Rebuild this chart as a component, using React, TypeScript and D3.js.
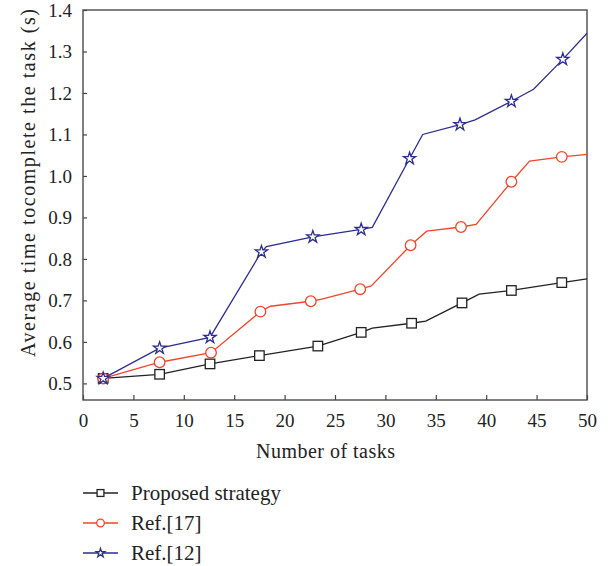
import React, { useEffect, useRef } from 'react';
import * as d3 from 'd3';

// values
const proposedX = [2, 7.6, 12.6, 17.5, 23.3, 27.6, 28.7, 32.6, 34.0, 37.6, 39.3, 42.5, 47.5, 50];
const proposedY = [0.512, 0.522, 0.547, 0.567, 0.59, 0.623, 0.633, 0.645, 0.65, 0.694, 0.715, 0.724, 0.743, 0.752];
const proposedMarks = [0, 1, 2, 3, 4, 5, 7, 9, 11, 12];

const ref17X = [2, 7.6, 12.7, 17.6, 18.6, 22.6, 23.7, 27.5, 28.6, 32.5, 34.1, 37.5, 39.0, 42.5, 44.3, 47.5, 50];
const ref17Y = [0.512, 0.551, 0.574, 0.673, 0.686, 0.698, 0.703, 0.727, 0.735, 0.833, 0.867, 0.877, 0.883, 0.986, 1.036, 1.046, 1.052];
const ref17Marks = [0, 1, 2, 3, 5, 7, 9, 11, 13, 15];

const ref12X = [2, 7.6, 12.6, 17.7, 18.2, 22.8, 27.6, 28.7, 32.4, 33.7, 37.4, 38.9, 42.5, 44.7, 47.6, 50];
const ref12Y = [0.512, 0.585, 0.611, 0.817, 0.83, 0.853, 0.871, 0.876, 1.042, 1.1, 1.124, 1.135, 1.18, 1.209, 1.281, 1.344];
const ref12Marks = [0, 1, 2, 3, 5, 6, 8, 10, 12, 14];

const xTicks = [0, 5, 10, 15, 20, 25, 30, 35, 40, 45, 50];
const yTicks = [0.5, 0.6, 0.7, 0.8, 0.9, 1.0, 1.1, 1.2, 1.3, 1.4];

const seriesNames = ['Proposed strategy', 'Ref.[17]', 'Ref.[12]'];

const FONT = '"Liberation Serif", "DejaVu Serif", serif';

const App = () => {
  const svgRef = useRef<SVGSVGElement>(null);

  useEffect(() => {
    const root = d3.select(svgRef.current);
    root.selectAll('*').remove();

    const left = 83, right = 587, top = 10, bottom = 400;

    const x = d3.scaleLinear().domain([0, 50]).range([left, right]);
    const y = d3.scaleLinear().domain([0.46, 1.4]).range([bottom, top]);

    const series = [
      { name: seriesNames[0], xs: proposedX, ys: proposedY, marks: proposedMarks, color: '#222222', shape: 'square' },
      { name: seriesNames[1], xs: ref17X, ys: ref17Y, marks: ref17Marks, color: '#f0452b', shape: 'circle' },
      { name: seriesNames[2], xs: ref12X, ys: ref12Y, marks: ref12Marks, color: '#2d2d8f', shape: 'star' },
    ];

    // axes
    const gx = root.append('g')
      .attr('transform', `translate(0,${bottom})`)
      .call(d3.axisBottom(x).tickValues(xTicks).tickSizeInner(-5).tickSizeOuter(0).tickPadding(13.5));
    const gy = root.append('g')
      .attr('transform', `translate(${left},0)`)
      .call(d3.axisLeft(y).tickValues(yTicks).tickFormat(d3.format('.1f')).tickSizeInner(-4).tickSizeOuter(0).tickPadding(11));

    [gx, gy].forEach(g => {
      g.select('.domain').remove();
      g.selectAll('line').attr('stroke', '#444').attr('stroke-width', 1.2);
      g.selectAll('text')
        .attr('fill', '#222')
        .style('font-family', FONT)
        .style('font-size', '19px');
    });

    root.append('rect')
      .attr('x', left).attr('y', top)
      .attr('width', right - left).attr('height', bottom - top)
      .attr('fill', 'none')
      .attr('stroke', '#4a4a4a')
      .attr('stroke-width', 1.4);

    const drawMarker = (g, shape, color, cx, cy, scale) => {
      if (shape === 'circle') {
        g.append('circle')
          .attr('cx', cx).attr('cy', cy).attr('r', 5.3 * scale)
          .attr('fill', 'white').attr('stroke', color).attr('stroke-width', 1.3);
      } else if (shape === 'square') {
        const s = 9.5 * scale;
        g.append('rect')
          .attr('x', cx - s / 2).attr('y', cy - s / 2)
          .attr('width', s).attr('height', s)
          .attr('fill', 'white').attr('stroke', color).attr('stroke-width', 1.3);
      } else {
        g.append('path')
          .attr('transform', `translate(${cx},${cy})`)
          .attr('d', d3.symbol().type(d3.symbolStar).size(46 * scale * scale)())
          .attr('fill', 'white').attr('stroke', color).attr('stroke-width', 1.3);
      }
    };

    const line = d3.line<[number, number]>()
      .x(d => x(d[0]))
      .y(d => y(d[1]));

    series.forEach(s => {
      const pts: [number, number][] = s.xs.map((v, i) => [v, s.ys[i]]);
      const g = root.append('g');
      g.append('path')
        .attr('d', line(pts))
        .attr('fill', 'none')
        .attr('stroke', s.color)
        .attr('stroke-width', 1.3);
      s.marks.forEach(i => drawMarker(g, s.shape, s.color, x(s.xs[i]), y(s.ys[i]), 1));
    });

    // axis titles
    root.append('text')
      .attr('x', 325.5).attr('y', 458)
      .attr('text-anchor', 'middle')
      .attr('fill', '#222')
      .attr('textLength', 139)
      .attr('lengthAdjust', 'spacing')
      .style('font-family', FONT)
      .style('font-size', '20px')
      .text('Number of tasks');

    root.append('text')
      .attr('transform', 'translate(35,183) rotate(-90)')
      .attr('text-anchor', 'middle')
      .attr('fill', '#222')
      .attr('textLength', 348)
      .attr('lengthAdjust', 'spacing')
      .style('font-family', FONT)
      .style('font-size', '20px')
      .text('Average time tocomplete the task (s)');

    // legend
    series.forEach((s, i) => {
      const ly = 493 + i * 30;
      const g = root.append('g');
      g.append('line')
        .attr('x1', 83).attr('x2', 118)
        .attr('y1', ly).attr('y2', ly)
        .attr('stroke', s.color).attr('stroke-width', 1.3);
      drawMarker(g, s.shape, s.color, 100.5, ly, 0.72);
      g.append('text')
        .attr('x', 131).attr('y', ly)
        .attr('dy', '0.33em')
        .attr('fill', '#222')
        .style('font-family', FONT)
        .style('font-size', '21px')
        .text(s.name);
    });
  }, []);

  return (
    <svg
      ref={svgRef}
      width={613}
      height={566}
      style={{ position: 'absolute', left: 0, top: 0, background: 'white' }}
    />
  );
};

export default App;
